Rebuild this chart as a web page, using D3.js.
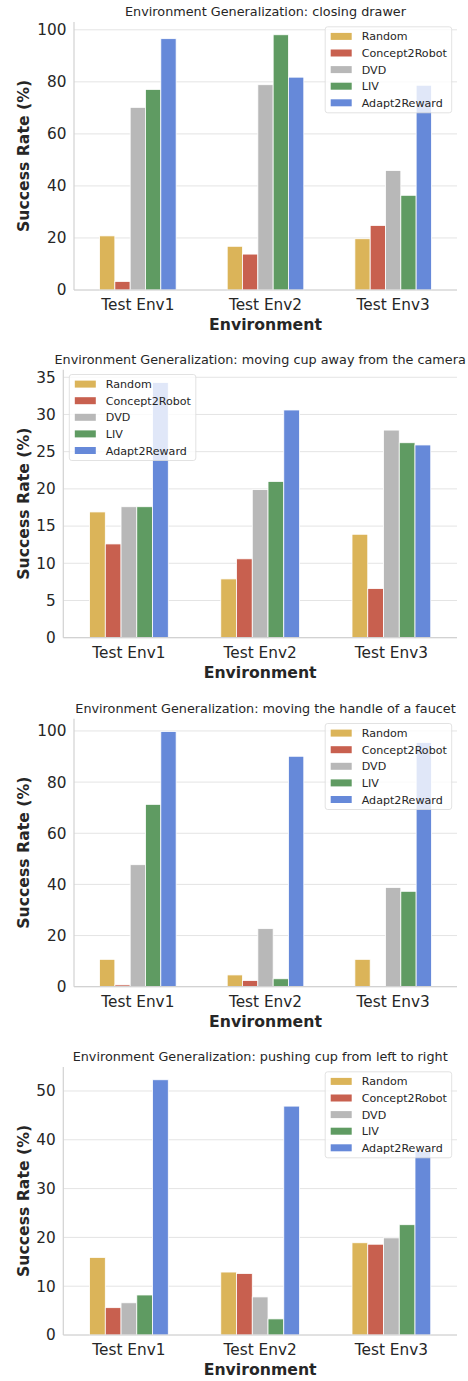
<!DOCTYPE html>
<html>
<head>
<meta charset="utf-8">
<script src="https://cdn.jsdelivr.net/npm/d3@7"></script>
<style>
  html, body { margin: 0; padding: 0; background: #fff; }
  svg { display: block; font-family: "DejaVu Sans", sans-serif; }
</style>
</head>
<body>
<svg id="chart" width="468" height="1381"></svg>
<script>
// ---------- DATA ----------
const categories = ["Test Env1", "Test Env2", "Test Env3"];
const seriesNames = ["Random", "Concept2Robot", "DVD", "LIV", "Adapt2Reward"];
const seriesColors = ["#DBB459", "#C8604F", "#B8B8B8", "#5F9B62", "#6689D9"];

const titles = [
  "Environment Generalization: closing drawer",
  "Environment Generalization: moving cup away from the camera",
  "Environment Generalization: moving the handle of a faucet",
  "Environment Generalization: pushing cup from left to right"
];

// values per series, across Test Env1..3
const drawerRandom = [20.8, 16.8, 19.7];
const drawerConcept2Robot = [3.3, 13.8, 24.8];
const drawerDVD = [70.2, 78.9, 45.9];
const drawerLIV = [77.1, 98.1, 36.4];
const drawerAdapt2Reward = [96.6, 81.8, 78.7];

const cupAwayRandom = [16.9, 7.9, 13.9];
const cupAwayConcept2Robot = [12.6, 10.6, 6.6];
const cupAwayDVD = [17.6, 19.9, 27.9];
const cupAwayLIV = [17.6, 21.0, 26.2];
const cupAwayAdapt2Reward = [34.3, 30.6, 25.9];

const faucetRandom = [10.7, 4.6, 10.7];
const faucetConcept2Robot = [0.7, 2.4, 0];
const faucetDVD = [47.7, 22.7, 38.8];
const faucetLIV = [71.3, 3.1, 37.3];
const faucetAdapt2Reward = [99.8, 90.1, 95.5];

const pushRandom = [15.9, 12.9, 18.9];
const pushConcept2Robot = [5.6, 12.6, 18.6];
const pushDVD = [6.6, 7.8, 19.9];
const pushLIV = [8.2, 3.3, 22.6];
const pushAdapt2Reward = [52.3, 46.9, 37.6];

const yTicks1 = [0, 20, 40, 60, 80, 100];
const yTicks2 = [0, 5, 10, 15, 20, 25, 30, 35];
const yTicks3 = [0, 20, 40, 60, 80, 100];
const yTicks4 = [0, 10, 20, 30, 40, 50];

const xLabel = "Environment";
const yLabel = "Success Rate (%)";

// ---------- BUILD ----------
const panelValues = [
  [drawerRandom, drawerConcept2Robot, drawerDVD, drawerLIV, drawerAdapt2Reward],
  [cupAwayRandom, cupAwayConcept2Robot, cupAwayDVD, cupAwayLIV, cupAwayAdapt2Reward],
  [faucetRandom, faucetConcept2Robot, faucetDVD, faucetLIV, faucetAdapt2Reward],
  [pushRandom, pushConcept2Robot, pushDVD, pushLIV, pushAdapt2Reward]
];
const panelTicks = [yTicks1, yTicks2, yTicks3, yTicks4];

// layout (pixels)
const layout = [
  { left: 74,   right: 457, top: 22,    bottom: 290,   legend: "right" },
  { left: 63.3, right: 457, top: 369.7, bottom: 637.7, legend: "left" },
  { left: 74,   right: 457, top: 718.7, bottom: 986.7, legend: "right" },
  { left: 63.3, right: 457, top: 1067,  bottom: 1335,  legend: "right" }
];

const textColor = "#262626";
const gridColor = "#e4e4e4";
const spineColor = "#d2d2d2";

const svg = d3.select("#chart");

panelValues.forEach((vals, p) => {
  const L = layout[p];
  const g = svg.append("g");

  const maxV = d3.max(vals.flat());
  const y = d3.scaleLinear().domain([0, maxV * 1.05]).range([L.bottom, L.top]);
  const x0 = d3.scaleBand().domain(categories).range([L.left, L.right])
    .paddingInner(0.4).paddingOuter(0.2);
  const x1 = d3.scaleBand().domain(seriesNames).range([0, x0.bandwidth()]).padding(0);

  // grid
  g.append("g").selectAll("line").data(panelTicks[p]).join("line")
    .attr("x1", L.left).attr("x2", L.right)
    .attr("y1", d => y(d)).attr("y2", d => y(d))
    .attr("stroke", gridColor).attr("stroke-width", 1);

  // y tick labels via axis
  const yAxis = d3.axisLeft(y).tickValues(panelTicks[p]).tickSize(0).tickPadding(7.5);
  const ya = g.append("g").attr("transform", `translate(${L.left},0)`).call(yAxis);
  ya.select(".domain").remove();
  ya.selectAll("text").attr("fill", textColor).attr("font-size", "15.3px")
    .attr("font-family", "DejaVu Sans");

  // x tick labels via axis
  const xAxis = d3.axisBottom(x0).tickSize(0).tickPadding(9);
  const xa = g.append("g").attr("transform", `translate(0,${L.bottom})`).call(xAxis);
  xa.select(".domain").remove();
  xa.selectAll("text").attr("fill", textColor).attr("font-size", "15.3px")
    .attr("font-family", "DejaVu Sans");

  // bars
  seriesNames.forEach((s, i) => {
    g.append("g").selectAll("rect").data(vals[i]).join("rect")
      .attr("x", (d, j) => x0(categories[j]) + x1(s))
      .attr("width", x1.bandwidth())
      .attr("y", d => y(d))
      .attr("height", d => y(0) - y(d))
      .attr("fill", seriesColors[i])
      .attr("stroke", "#ffffff").attr("stroke-width", 0.8);
  });

  // spines
  g.append("line").attr("x1", L.left).attr("x2", L.left)
    .attr("y1", L.top).attr("y2", L.bottom)
    .attr("stroke", spineColor).attr("stroke-width", 1.2);
  g.append("line").attr("x1", L.left).attr("x2", L.right)
    .attr("y1", L.bottom).attr("y2", L.bottom)
    .attr("stroke", spineColor).attr("stroke-width", 1.2);

  // title
  g.append("text").attr("x", (L.left + L.right) / 2).attr("y", L.top - 5.8)
    .attr("text-anchor", "middle").attr("font-size", "12.8px")
    .attr("fill", textColor).text(titles[p]);

  // x label
  g.append("text").attr("x", (L.left + L.right) / 2).attr("y", L.bottom + 40)
    .attr("text-anchor", "middle").attr("font-size", "15.7px").attr("font-weight", "bold")
    .attr("fill", textColor).text(xLabel);

  // y label
  g.append("text")
    .attr("transform", `translate(23,${(L.top + L.bottom) / 2}) rotate(-90)`)
    .attr("text-anchor", "middle").attr("dominant-baseline", "central")
    .attr("font-size", "15.7px").attr("font-weight", "bold")
    .attr("fill", textColor).text(yLabel);

  // legend
  const lw = 126.5, lh = 86, inset = 5.3;
  const lx = L.legend === "right" ? L.right - inset - lw : L.left + 6;
  const ly = L.top + 4.8;
  const lg = g.append("g").attr("transform", `translate(${lx},${ly})`);
  lg.append("rect").attr("width", lw).attr("height", lh).attr("rx", 2.5)
    .attr("fill", "#ffffff").attr("fill-opacity", 0.8)
    .attr("stroke", "#dadada").attr("stroke-width", 0.8);
  const rows = lg.selectAll("g.row").data(seriesNames).join("g")
    .attr("transform", (d, i) => `translate(0,${9.6 + i * 16.6})`);
  rows.append("rect").attr("x", 5.5).attr("y", -3.5).attr("width", 21).attr("height", 7)
    .attr("fill", (d, i) => seriesColors[i]);
  rows.append("text").attr("x", 36.5).attr("y", 0).attr("dy", "0.36em")
    .attr("font-size", "11.1px").attr("fill", textColor).text(d => d);
});
</script>
</body>
</html>
